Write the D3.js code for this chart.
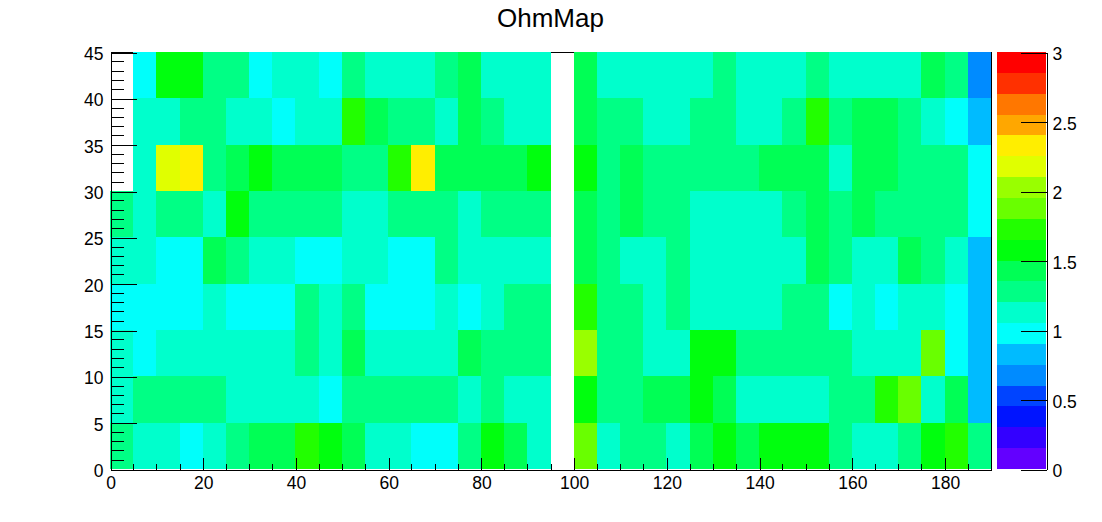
<!DOCTYPE html>
<html><head><meta charset="utf-8">
<script src="https://cdn.jsdelivr.net/npm/d3@7"></script>
<style>
html,body{margin:0;padding:0;background:#fff;overflow:hidden}
svg{display:block}
text{font-family:"Liberation Sans",Arial,sans-serif;fill:#000}
</style></head><body>
<svg id="c" width="1102" height="522"></svg>
<script>
const title = "OhmMap";
const xDomain = [0, 190];
const yDomain = [0, 45];
const zDomain = [0, 3];
const binSize = 5;
const xMajorTicks = [0,20,40,60,80,100,120,140,160,180];
const yMajorTicks = [0,5,10,15,20,25,30,35,40,45];
const zTicks = [0,0.5,1,1.5,2,2.5,3];
const zLabels = ["0","0.5","1","1.5","2","2.5","3"];
const palette = ["#6300ff","#3300ff","#0014ff","#0044ff","#008bff","#00bbff","#00fffb","#00ffcc","#00ff85","#00ff55","#00ff0e","#22ff00","#69ff00","#99ff00","#e0ff00","#ffee00","#ffa700","#ff7700","#ff3000","#ff0000"];

// Bin values, one list per y row; 0 = empty bin (not drawn)
const row0 = [1.28,1.12,1.12,0.98,1.12,1.28,1.42,1.42,1.72,1.58,1.42,1.12,1.12,0.98,0.98,1.28,1.58,1.42,1.12,0,1.88,1.12,1.28,1.28,1.12,1.42,1.58,1.42,1.58,1.58,1.58,1.28,1.12,1.12,1.28,1.58,1.72,1.28];
const row1 = [1.12,1.28,1.28,1.28,1.28,1.12,1.12,1.12,1.12,0.98,1.28,1.28,1.28,1.28,1.28,1.12,1.28,1.12,1.12,0,1.58,1.28,1.28,1.42,1.42,1.58,1.42,1.12,1.12,1.12,1.12,1.28,1.28,1.72,1.88,1.12,1.42,0.82];
const row2 = [1.12,0.98,1.12,1.12,1.12,1.12,1.12,1.12,1.28,1.12,1.42,1.12,1.12,1.12,1.12,1.42,1.28,1.28,1.28,0,2.02,1.28,1.28,1.12,1.12,1.58,1.58,1.28,1.28,1.28,1.28,1.28,1.12,1.12,1.12,1.88,0.98,0.82];
const row3 = [0.98,0.98,0.98,0.98,1.12,0.98,0.98,0.98,1.28,1.12,1.28,0.98,0.98,0.98,1.12,0.98,1.12,1.28,1.28,0,1.72,1.28,1.28,1.12,1.28,1.12,1.12,1.12,1.12,1.28,1.28,0.98,1.12,0.98,1.12,1.12,0.98,0.82];
const row4 = [1.12,1.12,0.98,0.98,1.42,1.28,1.12,1.12,0.98,0.98,1.12,1.12,0.98,0.98,1.28,1.12,1.12,1.12,1.12,0,1.42,1.28,1.12,1.12,1.28,1.12,1.12,1.12,1.12,1.12,1.42,1.28,1.12,1.12,1.42,1.28,1.12,0.82];
const row5 = [1.28,1.12,1.28,1.28,1.12,1.58,1.28,1.28,1.28,1.28,1.12,1.12,1.28,1.28,1.28,1.12,1.28,1.28,1.28,0,1.42,1.28,1.42,1.28,1.28,1.12,1.12,1.12,1.12,1.28,1.42,1.28,1.42,1.28,1.28,1.28,1.28,0.98];
const row6 = [0,1.12,2.18,2.32,1.28,1.42,1.58,1.42,1.42,1.42,1.28,1.28,1.72,2.32,1.42,1.42,1.42,1.42,1.58,0,1.58,1.28,1.42,1.28,1.28,1.28,1.28,1.28,1.42,1.42,1.42,1.12,1.42,1.42,1.28,1.28,1.28,0.98];
const row7 = [0,1.12,1.12,1.28,1.28,1.12,1.12,0.98,1.12,1.12,1.72,1.42,1.28,1.28,1.12,1.42,1.28,1.12,1.12,0,1.42,1.28,1.28,1.12,1.12,1.28,1.28,1.12,1.12,1.28,1.72,1.28,1.42,1.42,1.28,1.12,0.98,0.82];
const row8 = [0,0.98,1.58,1.58,1.28,1.28,0.98,1.12,1.12,0.98,1.28,1.12,1.12,1.12,1.28,1.42,1.12,1.12,1.12,0,1.42,1.12,1.12,1.12,1.12,1.12,1.28,1.12,1.12,1.12,1.28,1.12,1.12,1.12,1.12,1.42,1.28,0.68];
const rows = [row0,row1,row2,row3,row4,row5,row6,row7,row8];

const svg = d3.select("#c");
const x = d3.scaleLinear().domain(xDomain).range([110.5, 991.5]);
const y = d3.scaleLinear().domain(yDomain).range([469.5, 52.5]);
const zY = d3.scaleLinear().domain(zDomain).range([469.5, 52.5]);
const color = d3.scaleQuantize().domain(zDomain).range(palette);

// top frame line, hidden by the filled bins
svg.append("line").attr("x1",x(0)).attr("x2",x(190)).attr("y1",y(45)).attr("y2",y(45))
  .attr("stroke","#000").attr("shape-rendering","crispEdges");

const cells = rows.flatMap((r,j)=>r.map((v,i)=>({i,j,v}))).filter(d=>d.v>0);
svg.append("g").selectAll("rect").data(cells).join("rect")
  .attr("x",d=>Math.round(x(d.i*binSize)-0.5))
  .attr("width",d=>Math.round(x((d.i+1)*binSize)-0.5)-Math.round(x(d.i*binSize)-0.5))
  .attr("y",d=>Math.round(y((d.j+1)*binSize)-0.5))
  .attr("height",d=>Math.round(y(d.j*binSize)-0.5)-Math.round(y((d.j+1)*binSize)-0.5))
  .attr("fill",d=>color(d.v))
  .attr("shape-rendering","crispEdges");

// colour bar
const levels = d3.range(palette.length);
const dz = (zDomain[1]-zDomain[0])/palette.length;
svg.append("g").selectAll("rect").data(levels).join("rect")
  .attr("x",997).attr("width",49)
  .attr("y",k=>Math.round(zY((k+1)*dz)-0.5))
  .attr("height",k=>Math.round(zY(k*dz)-0.5)-Math.round(zY((k+1)*dz)-0.5))
  .attr("fill",k=>palette[k])
  .attr("shape-rendering","crispEdges");

function styleAxis(g){
  g.selectAll("line,path").attr("stroke","#000").attr("shape-rendering","crispEdges");
  g.selectAll("text").style("font-size","17.5px").attr("fill","#000");
}
const xMinor = d3.range(0,191,5).filter(v=>!xMajorTicks.includes(v) && v<190);
const yMinor = d3.range(0,46,1).filter(v=>!yMajorTicks.includes(v));

// x axis: ticks point into the plot
const gx = svg.append("g").attr("transform","translate(0,469.5)");
gx.call(d3.axisBottom(x).tickValues(xMajorTicks).tickFormat(d3.format("d")).tickSize(-12).tickSizeOuter(0).tickPadding(7));
gx.selectAll(".tickm").data(xMinor).join("line").attr("class","tickm")
  .attr("x1",d=>x(d)).attr("x2",d=>x(d)).attr("y1",0).attr("y2",-6);
styleAxis(gx);

// y axis
const gy = svg.append("g").attr("transform","translate(110.5,0)");
gy.call(d3.axisLeft(y).tickValues(yMajorTicks).tickFormat(d3.format("d")).tickSize(-26).tickSizeOuter(0).tickPadding(7));
gy.selectAll(".tickm").data(yMinor).join("line").attr("class","tickm")
  .attr("y1",d=>y(d)).attr("y2",d=>y(d)).attr("x1",0).attr("x2",13);
styleAxis(gy);
gy.selectAll("text").attr("dy","0.4em");

// right frame line
svg.append("line").attr("x1",x(190)).attr("x2",x(190)).attr("y1",y(0)).attr("y2",y(45))
  .attr("stroke","#000").attr("shape-rendering","crispEdges");

// z axis
const gz = svg.append("g").attr("transform","translate(1046.5,0)");
gz.call(d3.axisRight(zY).tickValues(zTicks).tickFormat((d,i)=>zLabels[i]).tickSize(-26).tickSizeOuter(0).tickPadding(6));
styleAxis(gz);
gz.selectAll("text").attr("dy","0.4em");

svg.append("text").attr("x",550.5).attr("y",27).attr("text-anchor","middle")
  .style("font-size","26px").text(title);
</script>
</body></html>
